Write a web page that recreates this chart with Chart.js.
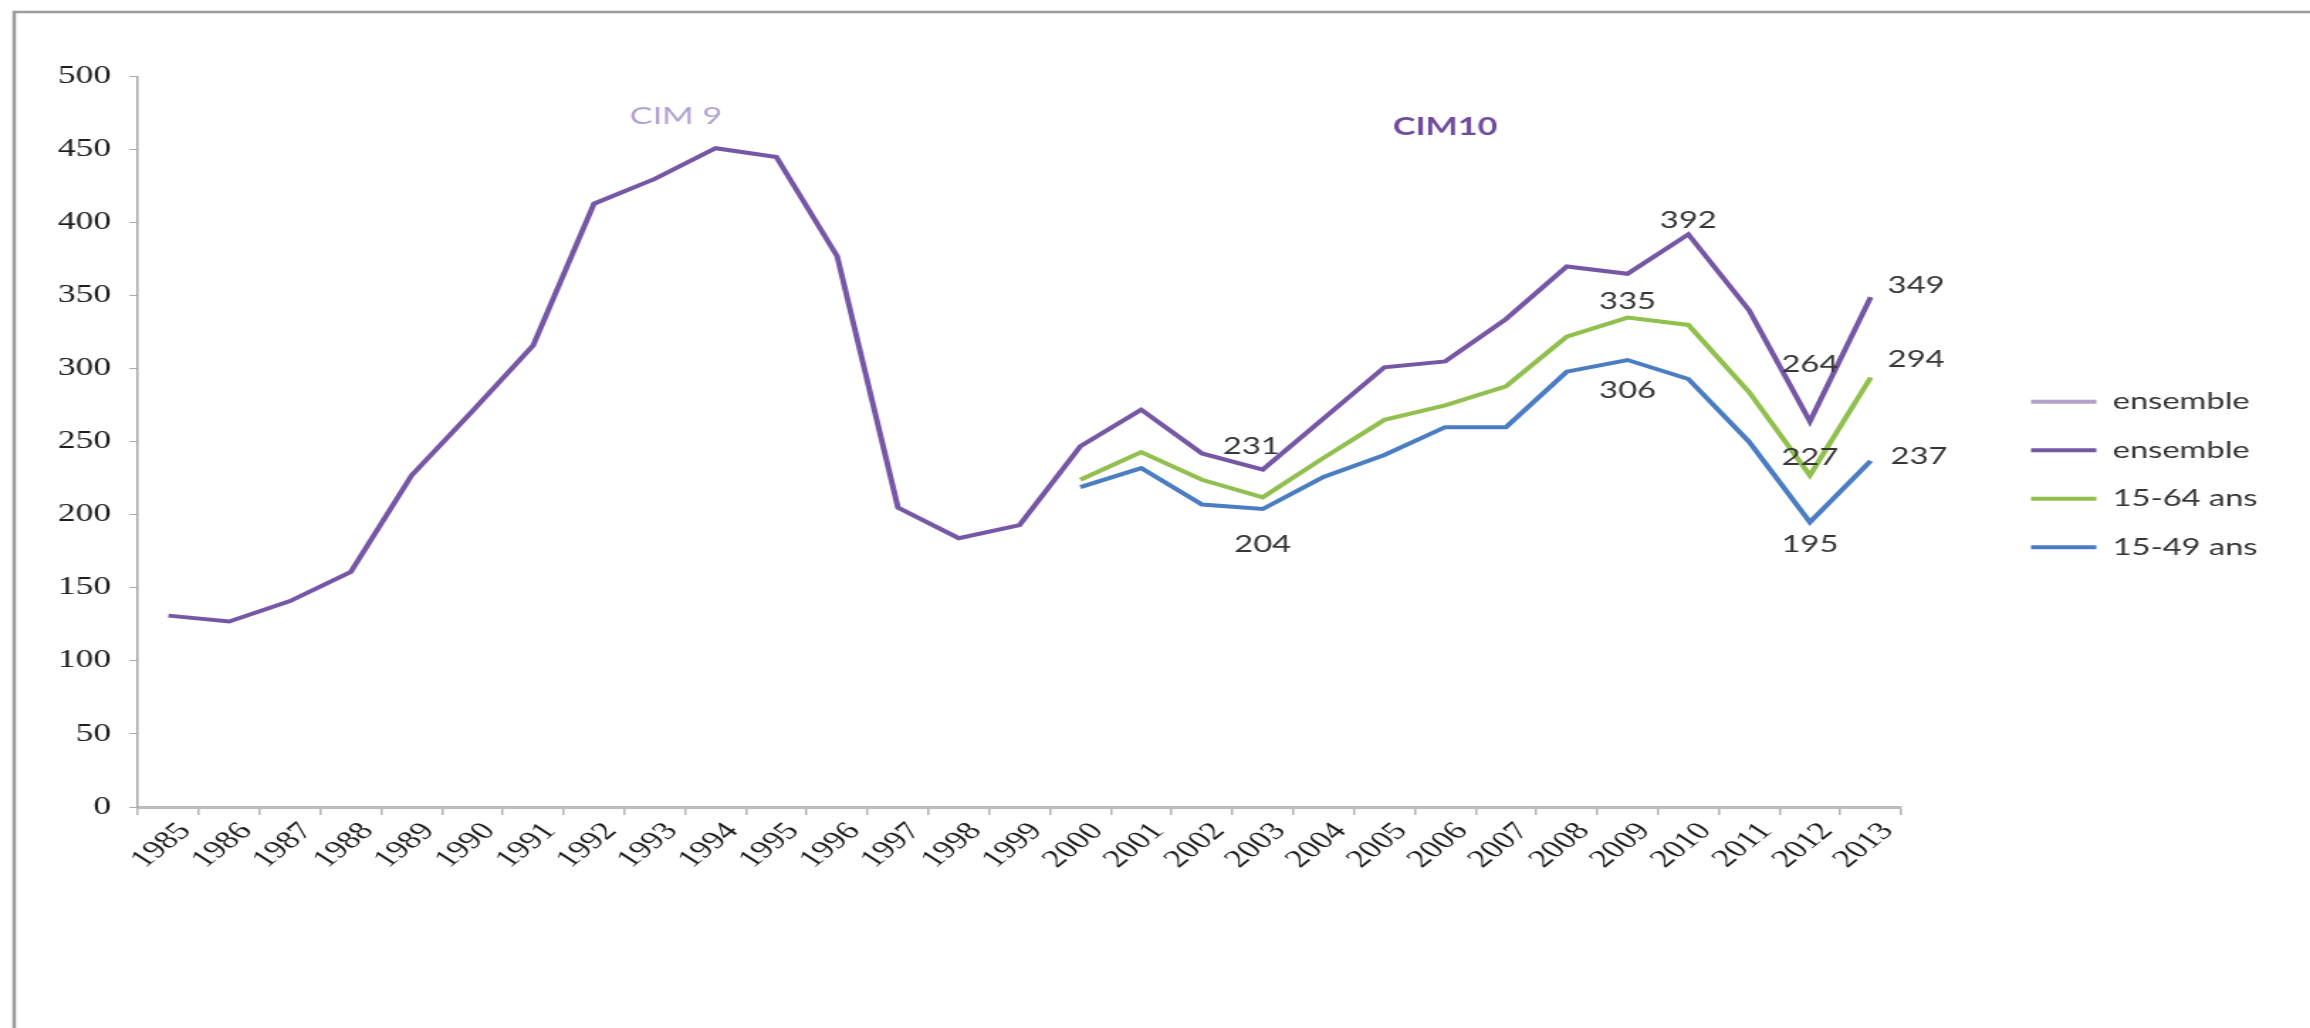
<!DOCTYPE html>
<html lang="fr">
<head>
	<meta charset="UTF-8">
	<title>Ensemble / 15-64 ans / 15-49 ans</title>
	<script src="https://cdn.jsdelivr.net/npm/chart.js"></script>
	<style>
		html, body { margin: 0; padding: 0; background: #fff; overflow: hidden; }
		/* the source picture is stretched sideways, so the chart is drawn narrow and widened */
		#wrap { width: 1627px; height: 1028px; transform: scaleX(1.4198); transform-origin: 0 0; }
	</style>
</head>
<body>
	<div id="wrap"><canvas id="myChart" width="1627" height="1028"></canvas></div>

	<script>
		const years = ['1985','1986','1987','1988','1989','1990','1991','1992','1993','1994',
			'1995','1996','1997','1998','1999','2000','2001','2002','2003','2004',
			'2005','2006','2007','2008','2009','2010','2011','2012','2013'];

		// ensemble (CIM 9 then CIM10)
		const ensemble = [131, 127, 141, 161, 227, 271, 316, 413, 430, 451,
			445, 377, 205, 184, 193, 247, 272, 242, 231, 266,
			301, 305, 334, 370, 365, 392, 340, 264, 349];
		// first "ensemble" legend entry has no visible line of its own
		const ensembleLight = [];
		const ans1564 = [null, null, null, null, null, null, null, null, null, null,
			null, null, null, null, null, 224, 243, 224, 212, 239,
			265, 275, 288, 322, 335, 330, 284, 227, 294];
		const ans1549 = [null, null, null, null, null, null, null, null, null, null,
			null, null, null, null, null, 219, 232, 207, 204, 226,
			241, 260, 260, 298, 306, 293, 250, 195, 237];

		const yTicks = [0, 50, 100, 150, 200, 250, 300, 350, 400, 450, 500];

		// value labels: dataset index, year, offset from the point
		const pointLabels = [
			{ ds: 1, year: '2003', dx: -8, dy: -23 },
			{ ds: 3, year: '2003', dx: 0, dy: 36 },
			{ ds: 1, year: '2010', dx: 0, dy: -14 },
			{ ds: 2, year: '2009', dx: 0, dy: -16 },
			{ ds: 3, year: '2009', dx: 0, dy: 31 },
			{ ds: 1, year: '2012', dx: 0, dy: -57 },
			{ ds: 2, year: '2012', dx: 0, dy: -18 },
			{ ds: 3, year: '2012', dx: 0, dy: 22 },
			{ ds: 1, year: '2013', dx: 32, dy: -12 },
			{ ds: 2, year: '2013', dx: 32, dy: -18 },
			{ ds: 3, year: '2013', dx: 34, dy: -4 }
		];

		const eraLabels = [
			{ text: 'CIM 9', at: 8.35, value: 473, color: '#b3a2cf', weight: 'normal' },
			{ text: 'CIM10', at: 21, value: 465, color: '#6f4c9e', weight: 'bold' }
		];

		const ctx = document.getElementById('myChart');

		const framePlugin = {
			id: 'frame',
			beforeDraw(chart) {
				const c = chart.ctx;
				c.save();
				c.fillStyle = '#fff';
				c.fillRect(0, 0, chart.width, chart.height);
				c.strokeStyle = '#9c9c9c';
				c.lineWidth = 2.5;
				c.strokeRect(10, 12, chart.width + 40, chart.height + 40);
				c.restore();
			}
		};

		// park the legend where the source has it (box made wide enough so its clip keeps the text)
		const legendPlace = {
			id: 'legendPlace',
			afterLayout(chart) {
				const lg = chart.legend;
				const h = lg.height;
				lg.left = 1405;
				lg.right = lg.left + 215;
				lg.width = 215;
				lg.top = 364.7;
				lg.bottom = lg.top + h;
			}
		};

		const textPlugin = {
			id: 'texts',
			afterDatasetsDraw(chart) {
				const c = chart.ctx;
				const xs = chart.scales.x, ys = chart.scales.y;
				c.save();
				c.textAlign = 'center';
				c.textBaseline = 'middle';
				c.font = '23px Lato';
				c.fillStyle = '#363636';
				pointLabels.forEach(l => {
					const i = years.indexOf(l.year);
					const pt = chart.getDatasetMeta(l.ds).data[i];
					const v = chart.data.datasets[l.ds].data[i];
					c.fillText(String(v), pt.x + l.dx, pt.y + l.dy);
				});
				eraLabels.forEach(e => {
					const i0 = Math.floor(e.at);
					const x0 = xs.getPixelForValue(i0), x1 = xs.getPixelForValue(i0 + 1);
					c.font = e.weight + ' 24px Lato';
					c.fillStyle = e.color;
					c.fillText(e.text, x0 + (x1 - x0) * (e.at - i0), ys.getPixelForValue(e.value));
				});
				c.restore();
			}
		};

		new Chart(ctx, {
			type: 'line',
			data: {
				labels: years,
				datasets: [{
					label: 'ensemble',
					data: ensembleLight,
					borderColor: '#b3a2c7',
					backgroundColor: '#b3a2c7',
					borderWidth: 4
				}, {
					label: 'ensemble',
					data: ensemble,
					borderColor: '#7657a6',
					backgroundColor: '#7657a6',
					borderWidth: 4
				}, {
					label: '15-64 ans',
					data: ans1564,
					borderColor: '#92c04f',
					backgroundColor: '#92c04f',
					borderWidth: 4
				}, {
					label: '15-49 ans',
					data: ans1549,
					borderColor: '#4a7dc2',
					backgroundColor: '#4a7dc2',
					borderWidth: 4
				}]
			},
			options: {
				responsive: false,
				animation: false,
				events: [],
				elements: {
					point: { radius: 0 },
					line: { tension: 0, fill: false }
				},
				layout: { padding: { left: 10, top: 76.6, right: 138, bottom: 0 } },
				plugins: {
					tooltip: { enabled: false },
					legend: {
						position: 'right',
						align: 'start',
						maxWidth: 150,
						labels: {
							usePointStyle: true,
							pointStyle: 'line',
							pointStyleWidth: 46,
							padding: 25.5,
							color: '#363636',
							font: { family: 'Lato', size: 23 }
						}
					}
				},
				scales: {
					x: {
						offset: true,
						grid: { offset: true, drawOnChartArea: false, tickLength: 8, color: '#b4b4b4', lineWidth: 1.5 },
						border: { color: '#bcbcbc', width: 3 },
						ticks: {
							autoSkip: false,
							minRotation: 48,
							maxRotation: 48,
							padding: 2,
							labelOffset: 12,
							color: '#1e1e1e',
							font: { family: 'Liberation Serif', size: 25 }
						},
						afterFit: s => { s.height = 221; }
					},
					y: {
						min: 0,
						max: 500,
						afterBuildTicks: s => { s.ticks = yTicks.map(v => ({ value: v })); },
						grid: { drawOnChartArea: false, tickLength: 6, color: '#a8a8a8', lineWidth: 1 },
						border: { color: '#a8a8a8', width: 1.5 },
						ticks: {
							padding: 13,
							color: '#1e1e1e',
							font: { family: 'Liberation Serif', size: 25 }
						},
						afterFit: s => { s.width = 87.2; }
					}
				}
			},
			plugins: [framePlugin, legendPlace, textPlugin]
		});
	</script>
</body>
</html>
